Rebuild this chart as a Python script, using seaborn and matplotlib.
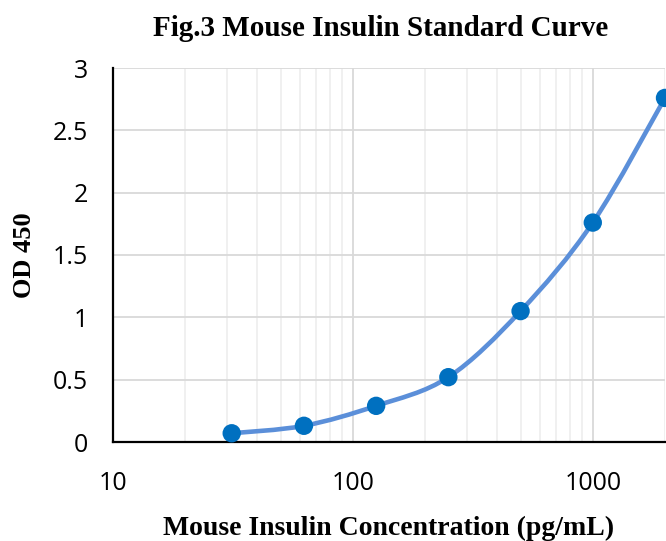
import numpy as np
import matplotlib
matplotlib.use("Agg")
import matplotlib.pyplot as plt
import matplotlib.ticker as mticker
from matplotlib.path import Path
from matplotlib.patches import PathPatch
import seaborn as sns
import pandas as pd

# standard curve data
conc = [31.25, 62.5, 125, 250, 500, 1000, 2000]
od450 = [0.07, 0.13, 0.29, 0.52, 1.05, 1.76, 2.76]

title = "Fig.3 Mouse Insulin Standard Curve"
xlabel = "Mouse Insulin Concentration (pg/mL)"
ylabel = "OD 450"
x_ticks = [10, 100, 1000]
y_ticks = [0, 0.5, 1, 1.5, 2, 2.5, 3]

df = pd.DataFrame({"conc": conc, "od": od450})

sns.set_style("white")
plt.rcParams["font.family"] = ["Open Sans", "DejaVu Sans"]
plt.rcParams["text.color"] = "black"
plt.rcParams["axes.labelcolor"] = "black"
plt.rcParams["xtick.color"] = "black"
plt.rcParams["ytick.color"] = "black"

fig = plt.figure(figsize=(6.66, 5.41), dpi=100)
ax = fig.add_axes([113 / 666, 1 - 442 / 541, 552 / 666, 374 / 541])

ax.set_xscale("log")
ax.set_xlim(10, 2000)
ax.set_ylim(0, 3)

# Excel-like smoothed line: bezier segments built in log-x space
lx = np.log10(df["conc"].values)
yy = df["od"].values
n = len(lx)
verts = [(10 ** lx[0], yy[0])]
codes = [Path.MOVETO]
for i in range(n - 1):
    p0 = np.array([lx[max(i - 1, 0)], yy[max(i - 1, 0)]])
    p1 = np.array([lx[i], yy[i]])
    p2 = np.array([lx[i + 1], yy[i + 1]])
    p3 = np.array([lx[min(i + 2, n - 1)], yy[min(i + 2, n - 1)]])
    c1 = p1 + (p2 - p0) / 6
    c2 = p2 - (p3 - p1) / 6
    for c in (c1, c2, p2):
        verts.append((10 ** c[0], c[1]))
        codes.append(Path.CURVE4)
curve = PathPatch(Path(verts, codes), facecolor="none", edgecolor="#5B8FD9",
                  lw=3.3, capstyle="round", zorder=3)
ax.add_patch(curve)

sns.scatterplot(data=df, x="conc", y="od", ax=ax, s=175, color="#0070C0",
                edgecolor="none", zorder=4, clip_on=False)

# grid
ax.set_xticks(x_ticks)
ax.xaxis.set_minor_locator(mticker.LogLocator(base=10, subs=np.arange(2, 10)))
ax.xaxis.set_minor_formatter(mticker.NullFormatter())
ax.xaxis.set_major_formatter(mticker.FuncFormatter(lambda v, p: f"{v:g}"))
ax.set_yticks(y_ticks)
ax.yaxis.set_major_formatter(mticker.FuncFormatter(lambda v, p: f"{v:g}"))
ax.grid(which="major", color="#D9D9D9", lw=1.3)
ax.grid(which="minor", axis="x", color="#EFEFEF", lw=1.3)
ax.set_axisbelow(True)

for s in ["top", "right"]:
    ax.spines[s].set_visible(False)
for s in ["left", "bottom"]:
    ax.spines[s].set_color("black")
    ax.spines[s].set_linewidth(1.6)

ax.tick_params(which="major", direction="out", length=6, width=1.6,
               color="black", labelsize=18, pad=12)
ax.tick_params(which="minor", length=0)
ax.tick_params(axis="x", pad=15)

serif = ["Liberation Serif", "DejaVu Serif"]
ax.set_xlabel(xlabel, family=serif, fontweight="bold", fontsize=20, labelpad=14)
ax.set_ylabel(ylabel, family=serif, fontweight="bold", fontsize=19, labelpad=12)
fig.text(0.571, 0.948, title, family=serif, fontweight="bold", fontsize=21,
         ha="center", va="center")

fig.savefig("out.png", dpi=100)
